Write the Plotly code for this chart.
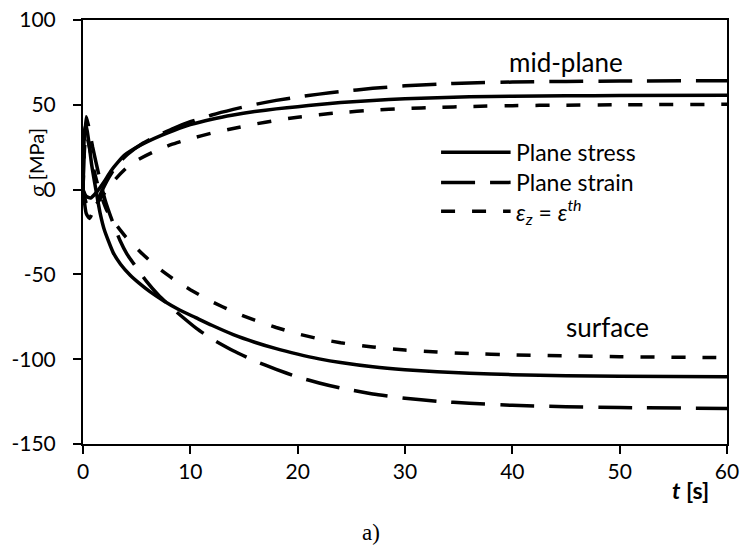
import plotly.graph_objects as go

# ---------------- data ----------------
t_mid_stress = [0, 0.3, 0.7, 1.2, 2, 2.6, 3.3, 3.9, 5, 6, 7.3, 8.5, 10, 12, 14, 16, 18, 20, 22, 24, 27, 30, 33, 36, 40, 45, 50, 60]
s_mid_stress = [0, -4, -5, -2, 5, 11, 16.5, 20.5, 25, 28.3, 32, 35, 38.3, 41.5, 44, 46, 47.6, 48.9, 50.2, 51.3, 52.6, 53.5, 54.2, 54.7, 55.1, 55.3, 55.5, 55.6]

t_mid_strain = [0, 0.3, 0.6, 1.0, 1.6, 2.4, 3.2, 4.2, 5.5, 7, 8.5, 10, 12, 14, 16, 18, 20, 22, 24, 27, 30, 33, 36, 40, 45, 50, 60]
s_mid_strain = [0, -14, -17, -12, -3, 7, 15, 21, 27, 32, 36.3, 40, 44, 47.3, 50.2, 52.6, 54.6, 56.3, 57.8, 59.7, 61.2, 62.2, 62.9, 63.4, 63.8, 64, 64.2]

t_mid_th = [0, 0.3, 0.7, 1.2, 2, 3, 4, 5.1, 6.5, 8.2, 10, 12, 14, 16, 18, 20, 22, 24, 27, 30, 33, 36, 40, 45, 50, 60]
s_mid_th = [0, -8, -12, -9, -2, 6, 12.5, 17.5, 22, 26.5, 30, 33.3, 36, 38.6, 40.8, 42.7, 44.2, 45.4, 46.8, 47.8, 48.5, 49, 49.5, 49.8, 50, 50.3]

t_surf_stress = [0, 0.15, 0.3, 0.5, 0.8, 1.2, 1.6, 2, 2.8, 3.5, 4.4, 5.2, 6.2, 7.5, 9, 10.5, 12, 14, 16, 18, 20, 22, 24, 27, 30, 33, 36, 40, 45, 50, 60]
s_surf_stress = [0, 35, 38, 30, 15, 0, -14, -24, -37, -44, -50.5, -55, -60, -65.5, -71, -75.5, -80, -85.5, -90, -93.8, -97, -99.8, -102, -104.5, -106.2, -107.4, -108.3, -109.1, -109.7, -110, -110.3]

t_surf_strain = [0, 0.15, 0.3, 0.5, 0.9, 1.5, 2.05, 2.7, 3.45, 4.1, 4.7, 5.9, 7, 8.5, 10.6, 12, 14, 16, 18, 20, 22, 24, 27, 30, 33, 36, 40, 45, 50, 60]
s_surf_strain = [0, 30, 43, 38, 25, 8, -6, -18, -30, -38, -43.5, -54, -62, -71, -82, -88, -95, -101, -106, -110.5, -114, -117, -120.5, -123, -124.8, -126, -127.2, -128, -128.5, -129]

t_surf_th = [0, 0.15, 0.3, 0.6, 1, 1.5, 2.2, 3, 4, 5.3, 6.5, 7.5, 8.7, 10, 12, 14, 16, 18, 20, 22, 24, 27, 30, 33, 36, 40, 45, 50, 60]
s_surf_th = [0, 25, 33, 25, 12, 0, -12, -20, -28, -36.5, -43.5, -48.5, -54, -59, -66, -72, -77, -81.3, -85, -88, -90.3, -92.8, -94.6, -95.8, -96.7, -97.4, -98, -98.5, -99.1]

legend_labels = ["Plane stress", "Plane strain", "<i>ε<sub>z</sub></i> = <i>ε<sup>th</sup></i>"]
x_ticks = [0, 10, 20, 30, 40, 50, 60]
y_ticks = [-150, -100, -50, 0, 50, 100]

# ---------------- styles ----------------
FONT = "Lato, 'Open Sans', sans-serif"
LW = 3.5
dash_styles = ["solid", "34px,15px", "14px,17px"]

fig = go.Figure()
series = [
    (t_mid_stress, s_mid_stress, 0), (t_surf_stress, s_surf_stress, 0),
    (t_mid_strain, s_mid_strain, 1), (t_surf_strain, s_surf_strain, 1),
    (t_mid_th, s_mid_th, 2), (t_surf_th, s_surf_th, 2),
]
for tx, sy, k in series:
    fig.add_trace(go.Scatter(x=tx, y=sy, mode="lines", showlegend=False,
                             line=dict(color="black", width=LW, dash=dash_styles[k], shape="spline", smoothing=0.5),
                             hoverinfo="skip"))

# manual legend (long line samples like the original)
leg_x0, leg_x1 = 0.556, 0.664
leg_y = [0.688, 0.617, 0.549]
for k in range(3):
    fig.add_shape(type="line", xref="paper", yref="paper", x0=leg_x0, x1=leg_x1, y0=leg_y[k], y1=leg_y[k],
                  line=dict(color="black", width=LW, dash=dash_styles[k]))
    fig.add_annotation(xref="paper", yref="paper", x=leg_x1 + 0.006, y=leg_y[k], text=legend_labels[k],
                       showarrow=False, xanchor="left", yanchor="middle",
                       font=dict(family=FONT, size=23, color="black"))

# region labels
fig.add_annotation(x=45.0, y=75.5, text="mid-plane", showarrow=False, font=dict(family=FONT, size=26, color="black"))
fig.add_annotation(x=48.9, y=-81, text="surface", showarrow=False, font=dict(family=FONT, size=26, color="black"))

# axis titles
fig.add_annotation(xref="paper", yref="y", x=0, y=16, xshift=-47, text="<i>σ</i> [MPa]", textangle=-90,
                   showarrow=False, xanchor="center", yanchor="middle",
                   font=dict(family=FONT, size=20, color="black"))
fig.add_annotation(xref="paper", yref="paper", x=1, y=0, xshift=-16, yshift=-30, text="<b><i>t</i> [s]</b>",
                   showarrow=False, xanchor="right", yanchor="top",
                   font=dict(family=FONT, size=23, color="black"))
fig.add_annotation(xref="paper", yref="paper", x=0.447, y=0, yshift=-74, text="a)",
                   showarrow=False, xanchor="center", yanchor="top",
                   font=dict(family="Liberation Serif, serif", size=23, color="black"))

axis_common = dict(showgrid=False, zeroline=False, showline=True, linecolor="black", linewidth=2,
                   mirror=True, ticks="outside", ticklen=8, tickwidth=2, tickcolor="black",
                   automargin=False, tickfont=dict(family=FONT, size=21, color="black"))
fig.update_xaxes(range=[0, 60], tickvals=x_ticks, ticktext=[str(v) for v in x_ticks], **axis_common)
fig.update_yaxes(range=[-150, 100], tickvals=y_ticks, ticktext=[str(v) for v in y_ticks],
                 ticklabelstandoff=13, **axis_common)

fig.update_layout(width=741, height=551, margin=dict(l=83, r=14, t=20, b=107),
                  plot_bgcolor="white", paper_bgcolor="white", showlegend=False)

fig.write_html("out.html", config={"displayModeBar": False, "staticPlot": True},
               post_script="document.body.style.margin='0px';document.body.style.overflow='hidden';")
